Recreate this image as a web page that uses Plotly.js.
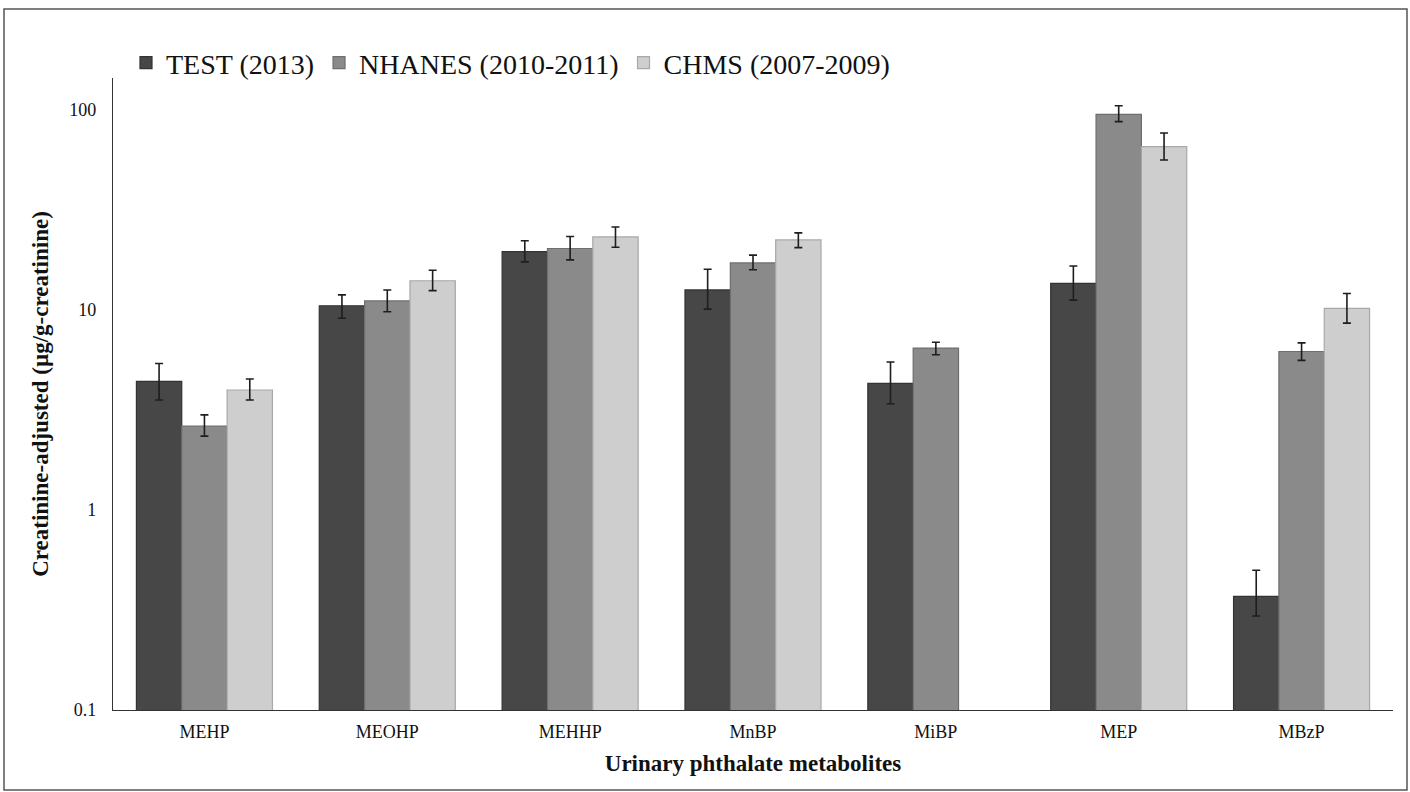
<!DOCTYPE html>
<html>
<head>
<meta charset="utf-8">
<script src="https://cdn.plot.ly/plotly-3.0.1.min.js"></script>
<style>
html,body{margin:0;padding:0;background:#fff;}
#chart{width:1410px;height:792px;}
</style>
</head>
<body>
<div id="chart"></div>
<script>
const categories = ["MEHP","MEOHP","MEHHP","MnBP","MiBP","MEP","MBzP"];
const seriesNames = ["TEST (2013)","NHANES (2010-2011)","CHMS (2007-2009)"];

const testValues  = [4.4, 10.5, 19.6, 12.6, 4.3, 13.6, 0.37];
const testUpper   = [5.4, 11.9, 22.2, 16.0, 5.5, 16.6, 0.50];
const testLower   = [3.55, 9.1, 17.4, 10.1, 3.4, 11.2, 0.295];

const nhanesValues = [2.63, 11.1, 20.3, 17.2, 6.45, 95, 6.2];
const nhanesUpper  = [2.99, 12.6, 23.3, 18.8, 6.9, 105, 6.85];
const nhanesLower  = [2.34, 9.8, 17.8, 15.9, 5.97, 87.5, 5.6];

const chmsValues = [3.98, 14.0, 23.2, 22.4, null, 65.6, 10.2];
const chmsUpper  = [4.52, 15.8, 26.0, 24.3, null, 76.7, 12.1];
const chmsLower  = [3.55, 12.5, 20.6, 20.5, null, 56.2, 8.6];

const colors = ["#474747", "#8a8a8a", "#cecece"];
const edgeColors = ["#333333", "#6e6e6e", "#a8a8a8"];

function plus(v, u){ return v.map((x,i)=> x==null? null : u[i]-x); }
function minus(v, l){ return v.map((x,i)=> x==null? null : x-l[i]); }

const sets = [
  [testValues, testUpper, testLower],
  [nhanesValues, nhanesUpper, nhanesLower],
  [chmsValues, chmsUpper, chmsLower]
];

const traces = sets.map((s, k) => ({
  type: "bar",
  name: seriesNames[k],
  x: categories,
  y: s[0],
  marker: {color: colors[k], line: {color: edgeColors[k], width: 1.2}},
  error_y: {
    type: "data",
    symmetric: false,
    array: plus(s[0], s[1]),
    arrayminus: minus(s[0], s[2]),
    color: "#1e1e1e",
    thickness: 1.6,
    width: 4
  }
}));

const serif = "Liberation Serif, Times New Roman, serif";
const L = 113, R = 17, T = 78, B = 82;
const W = 1410 - L - R, H = 792 - T - B;
function px2x(p){ return (p - L) / W; }
function py2y(p){ return (792 - B - p) / H; }

const layout = {
  width: 1410,
  height: 792,
  margin: {l: L, r: R, t: T, b: B, pad: 0},
  paper_bgcolor: "#ffffff",
  plot_bgcolor: "#ffffff",
  barmode: "group",
  bargap: 0.256,
  bargroupgap: 0,
  font: {family: serif, color: "#111"},
  showlegend: true,
  legend: {
    orientation: "h",
    x: px2x(126), xanchor: "left",
    y: py2y(38), yanchor: "top",
    font: {family: serif, size: 28, color: "#111"},
    bgcolor: "rgba(0,0,0,0)",
    traceorder: "normal"
  },
  xaxis: {
    type: "category",
    showline: true,
    linecolor: "#333",
    linewidth: 1.2,
    ticks: "outside",
    ticklen: 5,
    tickcolor: "rgba(0,0,0,0)",
    showgrid: false,
    tickfont: {family: serif, size: 18, color: "#111"},
    title: {text: "<b>Urinary phthalate metabolites</b>", font: {family: serif, size: 23, color: "#111"}, standoff: 14}
  },
  yaxis: {
    type: "log",
    range: [-1, 2.16],
    tickvals: [0.1, 1, 10, 100],
    ticktext: ["0.1", "1", "10", "100"],
    showline: true,
    linecolor: "#333",
    linewidth: 1.2,
    ticks: "",
    showgrid: false,
    zeroline: false,
    ticklabelstandoff: 12,
    tickfont: {family: serif, size: 18, color: "#111"},
    title: {text: "<b>Creatinine-adjusted (µg/g-creatinine)</b>", font: {family: serif, size: 23, color: "#111"}, standoff: 14}
  },
  shapes: [{
    type: "rect",
    xref: "paper", yref: "paper",
    x0: px2x(4), x1: px2x(1407),
    y0: py2y(790), y1: py2y(9),
    line: {color: "#555", width: 1.5},
    fillcolor: "rgba(0,0,0,0)"
  }]
};

Plotly.newPlot("chart", traces, layout, {displayModeBar: false, staticPlot: true});
</script>
</body>
</html>
